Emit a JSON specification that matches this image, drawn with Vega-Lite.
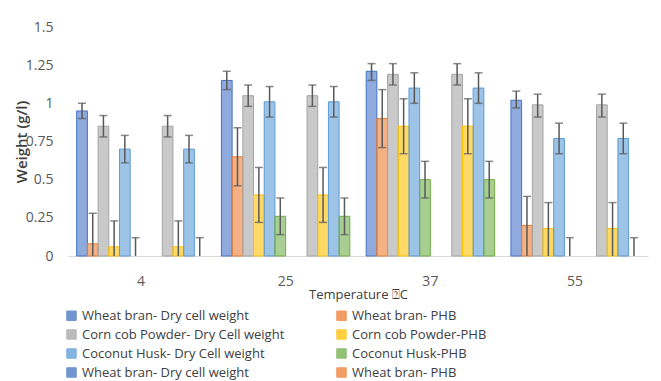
{
  "$schema": "https://vega.github.io/schema/vega-lite/v6.json",
  "autosize": {"type": "none"},
  "width": 580,
  "height": 229,
  "padding": {"left": 68, "top": 27, "right": 13, "bottom": 125},
  "background": "white",
  "config": {
    "font": "Open Sans",
    "view": {"stroke": null},
    "axis": {"labelFont": "Open Sans", "titleFont": "Open Sans", "labelColor": "#595959", "titleColor": "#404040", "labelFontSize": 14, "titleFontSize": 13, "titleFontWeight": "normal"}
  },
  "data": {
    "values": [
      {"temp": "4", "series": "Wheat bran- Dry cell weight", "value": 0.95, "lo": 0.90, "hi": 1.00},
      {"temp": "4", "series": "Wheat bran- PHB", "value": 0.08, "lo": 0, "hi": 0.28},
      {"temp": "4", "series": "Corn cob Powder- Dry Cell weight", "value": 0.85, "lo": 0.78, "hi": 0.92},
      {"temp": "4", "series": "Corn cob Powder-PHB", "value": 0.06, "lo": 0, "hi": 0.23},
      {"temp": "4", "series": "Coconut Husk- Dry Cell weight", "value": 0.70, "lo": 0.61, "hi": 0.79},
      {"temp": "4", "series": "Coconut Husk-PHB", "value": 0, "lo": 0, "hi": 0.12},
      {"temp": "4", "series": "Corn cob Powder- Dry Cell weight ", "value": 0.85, "lo": 0.78, "hi": 0.92},
      {"temp": "4", "series": "Corn cob Powder-PHB ", "value": 0.06, "lo": 0, "hi": 0.23},
      {"temp": "4", "series": "Coconut Husk- Dry Cell weight ", "value": 0.70, "lo": 0.61, "hi": 0.79},
      {"temp": "4", "series": "Coconut Husk-PHB ", "value": 0, "lo": 0, "hi": 0.12},

      {"temp": "25", "series": "Wheat bran- Dry cell weight", "value": 1.15, "lo": 1.09, "hi": 1.21},
      {"temp": "25", "series": "Wheat bran- PHB", "value": 0.65, "lo": 0.46, "hi": 0.84},
      {"temp": "25", "series": "Corn cob Powder- Dry Cell weight", "value": 1.05, "lo": 0.98, "hi": 1.12},
      {"temp": "25", "series": "Corn cob Powder-PHB", "value": 0.40, "lo": 0.22, "hi": 0.58},
      {"temp": "25", "series": "Coconut Husk- Dry Cell weight", "value": 1.01, "lo": 0.91, "hi": 1.11},
      {"temp": "25", "series": "Coconut Husk-PHB", "value": 0.26, "lo": 0.14, "hi": 0.38},
      {"temp": "25", "series": "Corn cob Powder- Dry Cell weight ", "value": 1.05, "lo": 0.98, "hi": 1.12},
      {"temp": "25", "series": "Corn cob Powder-PHB ", "value": 0.40, "lo": 0.22, "hi": 0.58},
      {"temp": "25", "series": "Coconut Husk- Dry Cell weight ", "value": 1.01, "lo": 0.91, "hi": 1.11},
      {"temp": "25", "series": "Coconut Husk-PHB ", "value": 0.26, "lo": 0.14, "hi": 0.38},

      {"temp": "37", "series": "Wheat bran- Dry cell weight", "value": 1.21, "lo": 1.15, "hi": 1.26},
      {"temp": "37", "series": "Wheat bran- PHB", "value": 0.90, "lo": 0.71, "hi": 1.09},
      {"temp": "37", "series": "Corn cob Powder- Dry Cell weight", "value": 1.19, "lo": 1.12, "hi": 1.26},
      {"temp": "37", "series": "Corn cob Powder-PHB", "value": 0.85, "lo": 0.67, "hi": 1.03},
      {"temp": "37", "series": "Coconut Husk- Dry Cell weight", "value": 1.10, "lo": 1.00, "hi": 1.20},
      {"temp": "37", "series": "Coconut Husk-PHB", "value": 0.50, "lo": 0.38, "hi": 0.62},
      {"temp": "37", "series": "Corn cob Powder- Dry Cell weight ", "value": 1.19, "lo": 1.12, "hi": 1.26},
      {"temp": "37", "series": "Corn cob Powder-PHB ", "value": 0.85, "lo": 0.67, "hi": 1.03},
      {"temp": "37", "series": "Coconut Husk- Dry Cell weight ", "value": 1.10, "lo": 1.00, "hi": 1.20},
      {"temp": "37", "series": "Coconut Husk-PHB ", "value": 0.50, "lo": 0.38, "hi": 0.62},

      {"temp": "55", "series": "Wheat bran- Dry cell weight", "value": 1.02, "lo": 0.97, "hi": 1.08},
      {"temp": "55", "series": "Wheat bran- PHB", "value": 0.20, "lo": 0, "hi": 0.39},
      {"temp": "55", "series": "Corn cob Powder- Dry Cell weight", "value": 0.99, "lo": 0.91, "hi": 1.06},
      {"temp": "55", "series": "Corn cob Powder-PHB", "value": 0.18, "lo": 0, "hi": 0.35},
      {"temp": "55", "series": "Coconut Husk- Dry Cell weight", "value": 0.77, "lo": 0.67, "hi": 0.87},
      {"temp": "55", "series": "Coconut Husk-PHB", "value": 0, "lo": 0, "hi": 0.12},
      {"temp": "55", "series": "Corn cob Powder- Dry Cell weight ", "value": 0.99, "lo": 0.91, "hi": 1.06},
      {"temp": "55", "series": "Corn cob Powder-PHB ", "value": 0.18, "lo": 0, "hi": 0.35},
      {"temp": "55", "series": "Coconut Husk- Dry Cell weight ", "value": 0.77, "lo": 0.67, "hi": 0.87},
      {"temp": "55", "series": "Coconut Husk-PHB ", "value": 0, "lo": 0, "hi": 0.12}
    ]
  },
  "encoding": {
    "x": {
      "field": "temp", "type": "nominal", "sort": ["4", "25", "37", "55"],
      "scale": {"paddingInner": 0.113, "paddingOuter": 0.06},
      "axis": {"title": "Temperature ⍰C", "labelAngle": 0, "ticks": false, "domainColor": "#D9D9D9", "domainWidth": 1, "labelPadding": 18, "titlePadding": 0}
    },
    "xOffset": {
      "field": "series", "type": "nominal",
      "scale": {"domain": ["Wheat bran- Dry cell weight", "Wheat bran- PHB", "Corn cob Powder- Dry Cell weight", "Corn cob Powder-PHB", "Coconut Husk- Dry Cell weight", "Coconut Husk-PHB", "Wheat bran- Dry cell weight ", "Wheat bran- PHB ", "Corn cob Powder- Dry Cell weight ", "Corn cob Powder-PHB ", "Coconut Husk- Dry Cell weight ", "Coconut Husk-PHB "], "paddingInner": 0, "paddingOuter": 0}
    }
  },
  "layer": [
    {
      "transform": [{"filter": "datum.value > 0"}],
      "mark": {"type": "bar", "fillOpacity": 0.6, "strokeWidth": 1},
      "encoding": {
        "y": {
          "field": "value", "type": "quantitative",
          "scale": {"domain": [0, 1.5], "nice": false},
          "axis": {"title": "Weight (g/l)", "labelExpr": "'' + datum.value", "values": [0, 0.25, 0.5, 0.75, 1, 1.25, 1.5], "labelOverlap": false, "grid": false, "domain": false, "ticks": false, "labelPadding": 15, "titlePadding": -4, "titleFontSize": 15, "titleFontWeight": 600, "titleColor": "#404040"}
        },
        "fill": {
          "field": "series", "type": "nominal",
          "scale": {
            "domain": ["Wheat bran- Dry cell weight", "Wheat bran- PHB", "Corn cob Powder- Dry Cell weight", "Corn cob Powder-PHB", "Coconut Husk- Dry Cell weight", "Coconut Husk-PHB", "Wheat bran- Dry cell weight ", "Wheat bran- PHB ", "Corn cob Powder- Dry Cell weight ", "Corn cob Powder-PHB ", "Coconut Husk- Dry Cell weight ", "Coconut Husk-PHB "],
            "range": ["#4472C4", "#ED7D31", "#A5A5A5", "#FFC000", "#5B9BD5", "#70AD47", "#4472C4", "#ED7D31", "#A5A5A5", "#FFC000", "#5B9BD5", "#70AD47"]
          },
          "legend": {
            "title": null, "orient": "none", "legendX": -3, "legendY": 282,
            "direction": "horizontal",
            "columns": 2, "gridAlign": "all", "columnPadding": 49, "rowPadding": 4,
            "symbolType": "square", "symbolSize": 90, "symbolStrokeWidth": 1, "symbolOpacity": 0.75,
            "labelFont": "Open Sans", "labelFontSize": 13, "labelColor": "#404040", "labelLimit": 300, "labelOffset": 4,
            "values": ["Wheat bran- Dry cell weight", "Wheat bran- PHB", "Corn cob Powder- Dry Cell weight", "Corn cob Powder-PHB", "Coconut Husk- Dry Cell weight", "Coconut Husk-PHB", "Wheat bran- Dry cell weight ", "Wheat bran- PHB "]
          }
        },
        "stroke": {
          "field": "series", "type": "nominal",
          "scale": {
            "domain": ["Wheat bran- Dry cell weight", "Wheat bran- PHB", "Corn cob Powder- Dry Cell weight", "Corn cob Powder-PHB", "Coconut Husk- Dry Cell weight", "Coconut Husk-PHB", "Wheat bran- Dry cell weight ", "Wheat bran- PHB ", "Corn cob Powder- Dry Cell weight ", "Corn cob Powder-PHB ", "Coconut Husk- Dry Cell weight ", "Coconut Husk-PHB "],
            "range": ["#4472C4", "#ED7D31", "#A5A5A5", "#FFC000", "#5B9BD5", "#70AD47", "#4472C4", "#ED7D31", "#A5A5A5", "#FFC000", "#5B9BD5", "#70AD47"]
          },
          "legend": null
        }
      }
    },
    {
      "mark": {"type": "rule", "color": "#595959", "strokeWidth": 1.5},
      "encoding": {
        "y": {"field": "lo", "type": "quantitative", "scale": {"domain": [0, 1.5], "nice": false},
          "axis": {"title": "Weight (g/l)", "labelExpr": "'' + datum.value", "values": [0, 0.25, 0.5, 0.75, 1, 1.25, 1.5], "labelOverlap": false, "grid": false, "domain": false, "ticks": false, "labelPadding": 15, "titlePadding": -4, "titleFontSize": 15, "titleFontWeight": 600, "titleColor": "#404040"}},
        "y2": {"field": "hi"}
      }
    },
    {
      "mark": {"type": "tick", "color": "#595959", "thickness": 1.5, "size": 8, "orient": "horizontal"},
      "encoding": {
        "y": {"field": "hi", "type": "quantitative", "scale": {"domain": [0, 1.5], "nice": false},
          "axis": {"title": "Weight (g/l)", "labelExpr": "'' + datum.value", "values": [0, 0.25, 0.5, 0.75, 1, 1.25, 1.5], "labelOverlap": false, "grid": false, "domain": false, "ticks": false, "labelPadding": 15, "titlePadding": -4, "titleFontSize": 15, "titleFontWeight": 600, "titleColor": "#404040"}}
      }
    },
    {
      "transform": [{"filter": "datum.lo > 0"}],
      "mark": {"type": "tick", "color": "#595959", "thickness": 1.5, "size": 8, "orient": "horizontal"},
      "encoding": {
        "y": {"field": "lo", "type": "quantitative", "scale": {"domain": [0, 1.5], "nice": false},
          "axis": {"title": "Weight (g/l)", "labelExpr": "'' + datum.value", "values": [0, 0.25, 0.5, 0.75, 1, 1.25, 1.5], "labelOverlap": false, "grid": false, "domain": false, "ticks": false, "labelPadding": 15, "titlePadding": -4, "titleFontSize": 15, "titleFontWeight": 600, "titleColor": "#404040"}}
      }
    }
  ]
}
